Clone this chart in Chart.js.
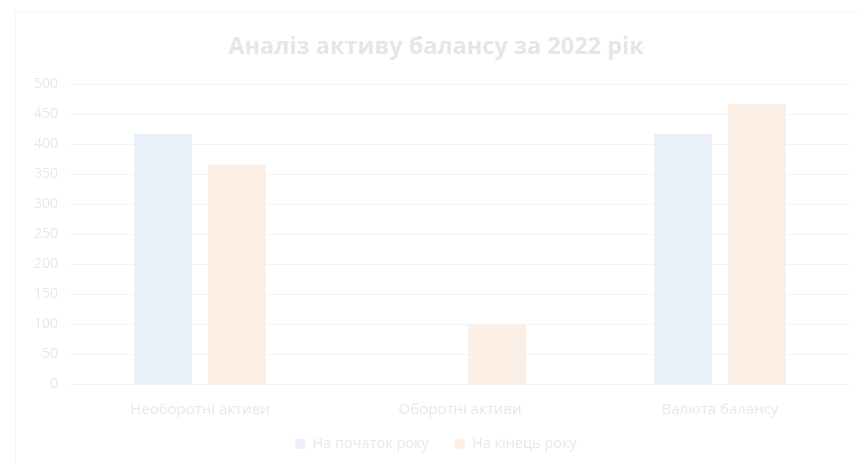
<!DOCTYPE html>
<html>
<head>
<meta charset="utf-8">
<script src="https://cdn.jsdelivr.net/npm/chart.js@4"></script>
<style>
  body { margin: 0; background: #fff; }
  #wrap { position: relative; width: 859px; height: 463px; }
  #frame { position: absolute; left: 15px; top: 12px; right: -2px; bottom: -2px; border: 1px solid #f5f5f5; }
</style>
</head>
<body>
<div id="wrap">
  <div id="frame"></div>
  <canvas id="myChart" width="859" height="463"></canvas>
</div>
<script>
// дані з діаграми
var categories = ["Необоротні активи", "Оборотні активи", "Валюта балансу"];
var startYear = [417, 0, 417];
var endYear = [366, 101, 467];
var yTicks = [0, 50, 100, 150, 200, 250, 300, 350, 400, 450, 500];

var textColor = "#e8e8e8";

// щоб підписи осі X не обрізались після зменшення висоти осі
var unclipX = {
    id: 'unclipX',
    afterLayout: function (chart) {
        chart.scales.x.bottom = chart.height;
    }
};

var ctx = document.getElementById("myChart");
var myChart = new Chart(ctx, {
    type: 'bar',
    data: {
        labels: categories,
        datasets: [{
            label: "На початок року",
            backgroundColor: "#eaf1fa",
            data: startYear,
            categoryPercentage: 0.57,
            barPercentage: 0.78
        }, {
            label: "На кінець року",
            backgroundColor: "#fcefe6",
            data: endYear,
            categoryPercentage: 0.57,
            barPercentage: 0.78
        }]
    },
    options: {
        responsive: false,
        animation: false,
        layout: { padding: { top: 33, left: 22, right: 9, bottom: 2 } },
        plugins: {
            title: {
                display: true,
                text: 'Аналіз активу балансу за 2022 рік',
                color: "#e6e6e6",
                font: { family: "Open Sans", size: 23.5, weight: 'bold' },
                padding: { top: 0, bottom: 23 }
            },
            legend: {
                position: 'bottom',
                labels: {
                    color: textColor,
                    font: { family: "Open Sans", size: 14.5 },
                    boxWidth: 10,
                    boxHeight: 10,
                    padding: 26
                }
            },
            tooltip: { enabled: false }
        },
        scales: {
            x: {
                grid: { display: false },
                border: { display: false },
                ticks: {
                    color: textColor,
                    font: { family: "Open Sans", size: 15 },
                    padding: 8
                },
                afterFit: function (axis) { axis.height = 26; }
            },
            y: {
                min: 0,
                max: 500,
                afterBuildTicks: function (axis) {
                    axis.ticks = yTicks.map(function (v) { return { value: v }; });
                },
                grid: { color: "#f3f3f3", drawTicks: false },
                border: { display: false },
                ticks: {
                    color: textColor,
                    font: { family: "Open Sans", size: 14 },
                    padding: 12
                }
            }
        }
    },
    plugins: [unclipX]
});
</script>
</body>
</html>
